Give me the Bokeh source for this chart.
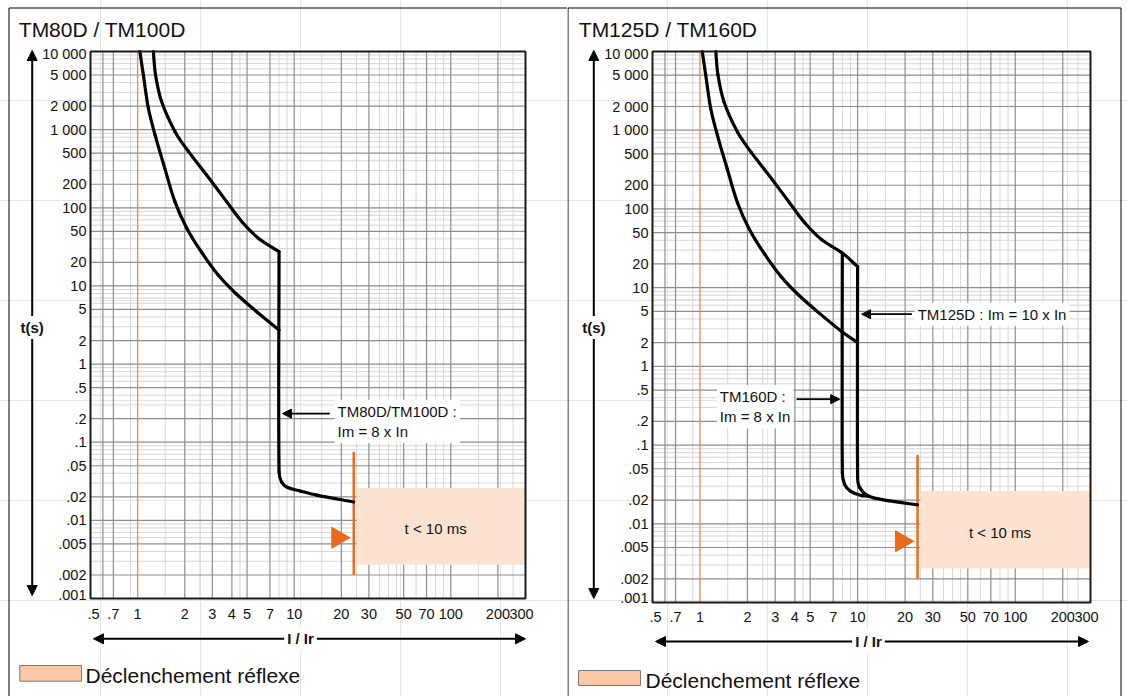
import math
from bokeh.plotting import figure
from bokeh.layouts import row
from bokeh.models import Range1d, LogScale, Label, Arrow, NormalHead
from bokeh.core.properties import value
from bokeh.embed import file_html
from bokeh.resources import INLINE

FONT = "Liberation Sans"

# ---- axis ticks ----
X_MIN, X_MAX = 0.5, 300.0
Y_MIN, Y_MAX = 0.001, 10000.0
x_tick_values = [0.5, 0.7, 1, 2, 3, 4, 5, 7, 10, 20, 30, 50, 70, 100, 200, 300]
x_tick_labels = [".5", ".7", "1", "2", "3", "4", "5", "7", "10", "20", "30", "50", "70", "100", "200", "300"]
y_tick_values = [0.001, 0.002, 0.005, 0.01, 0.02, 0.05, 0.1, 0.2, 0.5, 1, 2, 5, 10, 20, 50,
                 100, 200, 500, 1000, 2000, 5000, 10000]
y_tick_labels = [".001", ".002", ".005", ".01", ".02", ".05", ".1", ".2", ".5", "1", "2", "5", "10", "20", "50",
                 "100", "200", "500", "1 000", "2 000", "5 000", "10 000"]
x_grid_major = [0.6, 0.7, 2, 3, 4, 5, 7, 10, 20, 30, 50, 70, 100, 200]
x_grid_minor = [0.9, 1.5, 2.5, 4.5, 8, 9, 15, 25, 35, 40, 45, 60, 80, 90, 150, 250]
y_grid_major = y_tick_values
y_grid_minor = [m * 10.0 ** e for e in range(-3, 4) for m in (3, 4, 6, 7, 8, 9)]

# ---- tripping curves (I/Ir, t in s) ----
cold_I = [1.034, 1.087, 1.17, 1.29, 1.49, 1.73, 2.06, 2.56, 3.27, 4.24, 5.76, 8.0]
cold_t = [10000, 5070, 1890, 863, 322, 120, 54.8, 27, 13.8, 8.0, 4.68, 2.73]
hot_I = [1.26, 1.30, 1.42, 1.73, 2.11, 2.75, 3.7, 4.62, 5.9, 8.0]
hot_t = [10000, 5070, 2306, 950, 527, 265, 120, 66.7, 40.8, 27.5]

# TM80D / TM100D : magnetic trip at 8 x In
tm80_I = [8.0, 8.0, 8.3, 9.0, 10.9, 13.9, 24.0]
tm80_t = [27.5, 0.042, 0.031, 0.0265, 0.0238, 0.021, 0.0172]

# TM125D / TM160D
cold_ext_I = [10.0]
cold_ext_t = [2.0]
hot_ext_I = [10.0]
hot_ext_t = [18.5]
tm160_I = [8.0, 8.0, 8.25, 9.0, 10.6, 11.7]
tm160_t = [27.5, 0.045, 0.032, 0.026, 0.0228, 0.0225]
tm125_I = [10.0, 10.0, 10.3, 11.7, 15.6, 24.0]
tm125_t = [18.5, 0.039, 0.029, 0.0225, 0.0197, 0.0174]

# reflex tripping zone
reflex_I = 24.0
reflex_line_t = [0.075, 0.002]
reflex_box_I = [25.0, 300.0]
reflex_box_t = [0.0027, 0.026]
reflex_marker_I = 19.0
reflex_marker_t = 0.006
reflex_text_I = 80.0
reflex_text_t = 0.0078

BLACK = "#111111"
ORANGE_THIN = "#f08a3e"
ORANGE = "#ec6a1c"
PEACH = "#fce3d1"
PEACH_LEGEND = "#fbc9a7"
GRID_DARK = "#8e8e8e"
GRID_LIGHT = "#d6d6d6"

KW = dict(x_range_name="I", y_range_name="t")
PX_PER_DEC_X = 156.6
PX_PER_DEC_Y = 78.1


def head(size=10):
    return NormalHead(size=size, fill_color="black", line_color="black", line_width=1)


def smooth_curve(p, I, t, width=3.2):
    """Draw the measured points joined by smooth cubic segments (tangents from neighbours, log space)."""
    sx = [math.log10(v) * PX_PER_DEC_X for v in I]
    sy = [math.log10(v) * PX_PER_DEC_Y for v in t]
    n = len(sx)

    def direction(i):
        a, b = max(i - 1, 0), min(i + 1, n - 1)
        dx, dy = sx[b] - sx[a], sy[b] - sy[a]
        norm = math.hypot(dx, dy) or 1.0
        return dx / norm, dy / norm

    dirs = [direction(i) for i in range(n)]
    x0, y0, x1, y1, cx0, cy0, cx1, cy1 = ([] for _ in range(8))
    for i in range(n - 1):
        seg = math.hypot(sx[i + 1] - sx[i], sy[i + 1] - sy[i]) / 3
        ax, ay = sx[i] + dirs[i][0] * seg, sy[i] + dirs[i][1] * seg
        bx, by = sx[i + 1] - dirs[i + 1][0] * seg, sy[i + 1] - dirs[i + 1][1] * seg
        x0.append(I[i]); y0.append(t[i]); x1.append(I[i + 1]); y1.append(t[i + 1])
        cx0.append(10 ** (ax / PX_PER_DEC_X)); cy0.append(10 ** (ay / PX_PER_DEC_Y))
        cx1.append(10 ** (bx / PX_PER_DEC_X)); cy1.append(10 ** (by / PX_PER_DEC_Y))
    p.bezier(x0=x0, y0=y0, x1=x1, y1=y1, cx0=cx0, cy0=cy0, cx1=cx1, cy1=cy1,
             line_color="black", line_width=width, line_cap="round", **KW)


def make_panel(W, H, L, R, T, B, title, title_x, yarrow_x, yarrow_y1, xarrow_y, xarrow_x0, xarrow_x1,
               xlabel_x, sw, leg_x, leg_y, border_left_x, border_right_x, xlab_off, ylab_nudge):
    p = figure(width=W, height=H, x_range=Range1d(0, W), y_range=Range1d(H, 0), title=None,
               x_axis_location=None, y_axis_location=None,
               min_border_left=0, min_border_right=0, min_border_top=0, min_border_bottom=0,
               output_backend="svg", toolbar_location=None)
    p.outline_line_color = None
    p.background_fill_color = "white"
    p.border_fill_color = "white"
    dx = (R - L) / math.log10(X_MAX / X_MIN)
    dy = (B - T) / math.log10(Y_MAX / Y_MIN)
    p.extra_x_ranges = {"I": Range1d(X_MIN * 10 ** (-L / dx), X_MAX * 10 ** ((W - R) / dx))}
    p.extra_y_ranges = {"t": Range1d(Y_MIN * 10 ** (-(H - B) / dy), Y_MAX * 10 ** (T / dy))}
    p.extra_x_scales = {"I": LogScale()}
    p.extra_y_scales = {"t": LogScale()}

    # grid
    p.segment(x0=x_grid_minor, x1=x_grid_minor, y0=[Y_MIN] * len(x_grid_minor), y1=[Y_MAX] * len(x_grid_minor),
              line_color=GRID_LIGHT, line_width=1, **KW)
    p.segment(x0=[X_MIN] * len(y_grid_minor), x1=[X_MAX] * len(y_grid_minor), y0=y_grid_minor, y1=y_grid_minor,
              line_color=GRID_LIGHT, line_width=1, **KW)
    p.segment(x0=x_grid_major, x1=x_grid_major, y0=[Y_MIN] * len(x_grid_major), y1=[Y_MAX] * len(x_grid_major),
              line_color=GRID_DARK, line_width=1.2, **KW)
    p.segment(x0=[X_MIN] * len(y_grid_major), x1=[X_MAX] * len(y_grid_major), y0=y_grid_major, y1=y_grid_major,
              line_color=GRID_DARK, line_width=1.2, **KW)
    # I = Ir line
    p.line([1, 1], [Y_MIN, Y_MAX], line_color=ORANGE_THIN, line_width=1.3, **KW)
    # reflex zone
    p.quad(left=[reflex_box_I[0]], right=[reflex_box_I[1]], bottom=[reflex_box_t[0]], top=[reflex_box_t[1]],
           fill_color=PEACH, line_color=None, **KW)
    p.line([reflex_I, reflex_I], reflex_line_t, line_color=ORANGE, line_width=2.5, **KW)
    p.scatter([reflex_marker_I], [reflex_marker_t], marker="triangle", size=21, angle=-math.pi / 2,
              fill_color=ORANGE, line_color=ORANGE, **KW)
    p.add_layout(Label(x=reflex_text_I, y=reflex_text_t, text="t < 10 ms", text_font=FONT,
                       text_font_size="15px", text_align="center", text_baseline="middle", text_color=BLACK, **KW))

    # tick labels (read through the log scales); end labels sit slightly inside the frame
    x_nudge = [3] + [0] * (len(x_tick_values) - 2) + [-4]
    y_nudge = [-ylab_nudge] + [0] * (len(y_tick_values) - 2) + [2]
    p.text(x=x_tick_values, y=[Y_MIN] * len(x_tick_values), text=x_tick_labels, y_offset=xlab_off,
           x_offset=x_nudge, text_align="center", text_baseline="middle", text_font=value(FONT),
           text_font_size="14.5px", text_color=BLACK, **KW)
    p.text(x=[X_MIN] * len(y_tick_values), y=y_tick_values, text=y_tick_labels, x_offset=-4, y_offset=y_nudge,
           text_align="right", text_baseline="middle", text_font=value(FONT), text_font_size="14.5px",
           text_color=BLACK, **KW)

    # panel border (pixel coordinates)
    p.line([border_left_x, border_left_x, border_right_x], [H + 5, 7.5, 7.5], line_color="black", line_width=1)
    if border_right_x < W:
        p.line([border_right_x, border_right_x], [7.5, H + 5], line_color="black", line_width=1)
    # title
    p.add_layout(Label(x=title_x, y=28.5, text=title, text_font=FONT, text_font_size="21px",
                       text_baseline="middle", text_color=BLACK))
    # axis arrows
    p.add_layout(Arrow(x_start=yarrow_x, y_start=yarrow_y1, x_end=yarrow_x, y_end=50, line_width=2,
                       line_color="black", start=head(), end=head()))
    p.add_layout(Label(x=yarrow_x, y=327, text="t(s)", text_font=FONT, text_font_size="15px",
                       text_font_style="bold", text_align="center", text_baseline="middle",
                       background_fill_color="white", padding=3, text_color=BLACK))
    p.add_layout(Arrow(x_start=xarrow_x0, y_start=xarrow_y, x_end=xarrow_x1, y_end=xarrow_y, line_width=2,
                       line_color="black", start=head(), end=head()))
    p.add_layout(Label(x=xlabel_x, y=xarrow_y, text="I / Ir", text_font=FONT, text_font_size="15px",
                       text_font_style="bold", text_align="center", text_baseline="middle",
                       background_fill_color="white", padding=3, text_color=BLACK))
    # legend
    p.quad(left=[sw[0]], right=[sw[1]], top=[sw[2]], bottom=[sw[3]], fill_color=PEACH_LEGEND,
           line_color="#7a7a7a", line_width=1)
    p.add_layout(Label(x=leg_x, y=leg_y, text="Déclenchement réflexe", text_font=FONT, text_font_size="21px",
                       text_baseline="middle", text_color=BLACK))
    return p


def frame_box(p):
    p.quad(left=[X_MIN], right=[X_MAX], bottom=[Y_MIN], top=[Y_MAX], fill_color=None,
           line_color="#1a1a1a", line_width=2, **KW)


def annot(p, x, y, text, ax0, ax1, ay, baseline="top"):
    p.add_layout(Arrow(x_start=ax0, y_start=ay, x_end=ax1, y_end=ay, line_width=1.8, line_color="black",
                       end=head(9), **KW))
    p.add_layout(Label(x=x, y=y, text=text, text_font=FONT, text_font_size="15px", text_align="left",
                       text_baseline=baseline, background_fill_color="white", padding=3, text_color=BLACK, **KW))


# ---- left panel: TM80D / TM100D ----
p1 = make_panel(567, 696, 90, 525, 51, 598, "TM80D / TM100D", 18.3, 31.7, 595, 638.3, 93, 525, 300,
                (19.3, 81, 665, 680.7), 85, 675, 8.5, 1000, 15, 4)
smooth_curve(p1, cold_I, cold_t)
smooth_curve(p1, hot_I, hot_t)
smooth_curve(p1, tm80_I, tm80_t)
frame_box(p1)
annot(p1, 18.1, 0.35, "TM80D/TM100D :\nIm = 8 x In", 16.9, 8.4, 0.2325)

# ---- right panel: TM125D / TM160D ----
p2 = make_panel(560, 696, 85, 523, 51, 602, "TM125D / TM160D", 11.3, 26.3, 598, 641, 88, 521, 301,
                (11, 73, 670, 685), 78, 680, 0.5, 553.5, 14, 5)
smooth_curve(p2, cold_I + cold_ext_I, cold_t + cold_ext_t)
smooth_curve(p2, hot_I + hot_ext_I, hot_t + hot_ext_t)
smooth_curve(p2, tm160_I, tm160_t)
smooth_curve(p2, tm125_I, tm125_t)
frame_box(p2)
annot(p2, 23.0, 4.6, "TM125D : Im = 10 x In", 22.1, 10.6, 4.6, baseline="middle")
annot(p2, 1.28, 0.58, "TM160D :\nIm = 8 x In", 4.1, 7.7, 0.383)

layout = row(p1, p2)
open("out.html", "w").write(file_html(layout, INLINE))
